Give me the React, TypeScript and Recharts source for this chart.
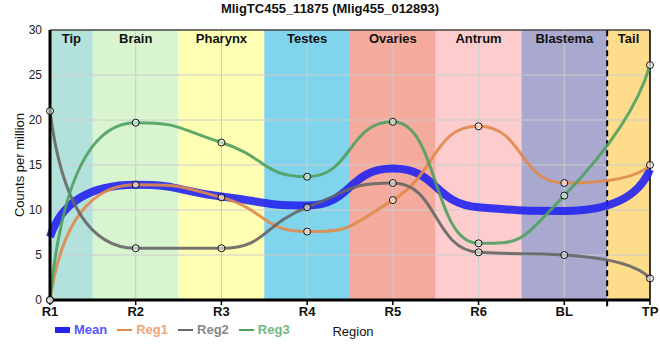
import {
  LineChart,
  Line,
  XAxis,
  YAxis,
  ReferenceArea,
  ReferenceLine,
} from "recharts";

const categories = ["R1", "R2", "R3", "R4", "R5", "R6", "BL", "TP"];
const meanValues = [7.0, 12.8, 11.5, 10.5, 14.6, 10.3, 9.9, 14.5];
const reg1Values = [0, 12.8, 11.4, 7.6, 11.1, 19.3, 13.0, 15.0];
const reg2Values = [21.0, 5.75, 5.75, 10.3, 13.0, 5.3, 5.0, 2.4];
const reg3Values = [0, 19.7, 17.5, 13.7, 19.8, 6.3, 11.6, 26.1];

const bandNames = ["Tip", "Brain", "Pharynx", "Testes", "Ovaries", "Antrum", "Blastema", "Tail"];
const bandColors = ["#b3e2dd", "#d9f5d0", "#ffffb3", "#80d4ec", "#f4aa9c", "#fdcccc", "#a9a9d0", "#fddc8c"];
const yTicks = [0, 5, 10, 15, 20, 25, 30];

const data = categories.map((c, i) => ({
  x: i,
  name: c,
  Mean: meanValues[i],
  Reg1: reg1Values[i],
  Reg2: reg2Values[i],
  Reg3: reg3Values[i],
}));

const SERIES = [
  { key: "Mean", color: "#2323f0", width: 8, dots: false, legend: "#5555ff" },
  { key: "Reg1", color: "#e0894a", width: 3, dots: true, legend: "#eaa57a" },
  { key: "Reg2", color: "#666666", width: 3, dots: true, legend: "#888888" },
  { key: "Reg3", color: "#4fa060", width: 3, dots: true, legend: "#72b883" },
];

const FONT = "'Liberation Sans', Arial, sans-serif";

// monotone-style curve with long bezier arms (flat plateaus, sharp steps),
// quadratic end segments like a smoothed spline
const ARM = 0.53;
const END_ARM = 0.8;
const sharpMonotone = (context: any) => {
  let xs: number[] = [];
  let ys: number[] = [];
  const lim = 1 / ARM;
  const endOffset = (mi: number, h: number, dy: number) => {
    let off = END_ARM * h * mi;
    if (Math.abs(off) > Math.abs(dy)) off = Math.sign(off) * Math.abs(dy);
    return off;
  };
  return {
    areaStart() {},
    areaEnd() {},
    lineStart() {
      xs = [];
      ys = [];
    },
    point(x: number, y: number) {
      xs.push(+x);
      ys.push(+y);
    },
    lineEnd() {
      const n = xs.length;
      if (!n) return;
      context.moveTo(xs[0], ys[0]);
      if (n === 1) return;
      if (n === 2) {
        context.lineTo(xs[1], ys[1]);
        return;
      }
      const s: number[] = [];
      for (let i = 0; i < n - 1; i++) s.push((ys[i + 1] - ys[i]) / (xs[i + 1] - xs[i]));
      const m: number[] = new Array(n).fill(0);
      for (let i = 1; i < n - 1; i++) {
        const a = s[i - 1];
        const b = s[i];
        if (a * b <= 0) continue;
        const p = (a + b) / 2;
        m[i] = Math.sign(p) * Math.min(lim * Math.abs(a), lim * Math.abs(b), Math.abs(p));
      }
      const h0 = xs[1] - xs[0];
      const off0 = endOffset(m[1], h0, ys[1] - ys[0]);
      context.quadraticCurveTo(xs[1] - END_ARM * h0, ys[1] - off0, xs[1], ys[1]);
      for (let i = 1; i < n - 2; i++) {
        const h = xs[i + 1] - xs[i];
        context.bezierCurveTo(
          xs[i] + ARM * h,
          ys[i] + ARM * h * m[i],
          xs[i + 1] - ARM * h,
          ys[i + 1] - ARM * h * m[i + 1],
          xs[i + 1],
          ys[i + 1]
        );
      }
      const hn = xs[n - 1] - xs[n - 2];
      const offn = endOffset(m[n - 2], hn, ys[n - 1] - ys[n - 2]);
      context.quadraticCurveTo(xs[n - 2] + END_ARM * hn, ys[n - 2] + offn, xs[n - 1], ys[n - 1]);
    },
  };
};

const App = () => {
  const last = categories.length - 1;
  return (
    <div style={{ position: "absolute", left: 0, top: 0, width: 660, height: 360, fontFamily: FONT }}>
      <div
        style={{
          position: "absolute",
          top: 1,
          left: 0,
          width: 660,
          textAlign: "center",
          fontWeight: "bold",
          fontSize: 13,
          color: "#111",
        }}
      >
        MligTC455_11875 (Mlig455_012893)
      </div>
      <LineChart
        width={660}
        height={360}
        data={data}
        margin={{ top: 30, right: 10, bottom: 20, left: 0 }}
        style={{ fontFamily: FONT }}
      >
        {bandNames.map((name, i) => (
          <ReferenceArea
            key={name}
            x1={Math.max(0, i - 0.5)}
            x2={Math.min(last, i + 0.5)}
            y1={0}
            y2={30}
            fill={bandColors[i]}
            fillOpacity={1}
            stroke="none"
            label={{ value: name, position: "insideTop", offset: 4, fontWeight: "bold", fontSize: 13, fill: "#111" }}
          />
        ))}
        {categories.map((_, i) => (
          <ReferenceLine key={"vx" + i} x={i} stroke="#cccccc" strokeWidth={1} />
        ))}
        {yTicks.map((t) => (
          <ReferenceLine key={"hy" + t} y={t} stroke="#cccccc" strokeWidth={1} />
        ))}
        <ReferenceLine y={30} stroke="#000" strokeWidth={1} />
        <ReferenceLine x={last} stroke="#000" strokeWidth={1.5} />
        <ReferenceLine
          segment={[
            { x: last - 0.5, y: -0.7 },
            { x: last - 0.5, y: 30 },
          ]}
          ifOverflow="visible"
          stroke="#000"
          strokeWidth={2}
          strokeDasharray="6 4"
        />
        <XAxis
          dataKey="x"
          type="number"
          domain={[0, last]}
          ticks={categories.map((_, i) => i)}
          tickFormatter={(v) => categories[v as number]}
          height={40}
          axisLine={{ stroke: "#000", strokeWidth: 3 }}
          tickLine={{ stroke: "#000", strokeWidth: 1.5 }}
          tickSize={5}
          tick={{ fill: "#111", fontSize: 13, fontWeight: "bold" }}
          label={{ value: "Region", position: "insideBottom", offset: 4, fill: "#111", fontSize: 13, dx: 3 }}
        />
        <YAxis
          type="number"
          domain={[0, 30]}
          ticks={yTicks}
          width={50}
          axisLine={{ stroke: "#000", strokeWidth: 3 }}
          tickLine={false}
          tick={{ fill: "#222", fontSize: 12 }}
          label={{ value: "Counts per million", angle: -90, position: "center", dx: -6, fill: "#111", fontSize: 13 }}
        />
        {SERIES.map((s) => (
          <Line
            key={s.key}
            dataKey={s.key}
            type={sharpMonotone as any}
            stroke={s.color}
            strokeWidth={s.width}
            strokeOpacity={0.9}
            isAnimationActive={false}
            dot={s.dots ? { r: 3.5, stroke: "#000", strokeWidth: 1, fill: "rgba(255,255,255,0.55)" } : false}
            activeDot={false}
          />
        ))}
      </LineChart>
      <div
        style={{
          position: "absolute",
          left: 55,
          top: 322,
          display: "flex",
          alignItems: "center",
          fontSize: 13,
          fontWeight: "bold",
        }}
      >
        {SERIES.map((s) => (
          <div key={s.key} style={{ display: "flex", alignItems: "center", marginRight: 10 }}>
            <div style={{ width: 15, height: s.width === 8 ? 6 : 2, background: s.color, marginRight: 4 }} />
            <span style={{ color: s.legend }}>{s.key}</span>
          </div>
        ))}
      </div>
    </div>
  );
};

export default App;
